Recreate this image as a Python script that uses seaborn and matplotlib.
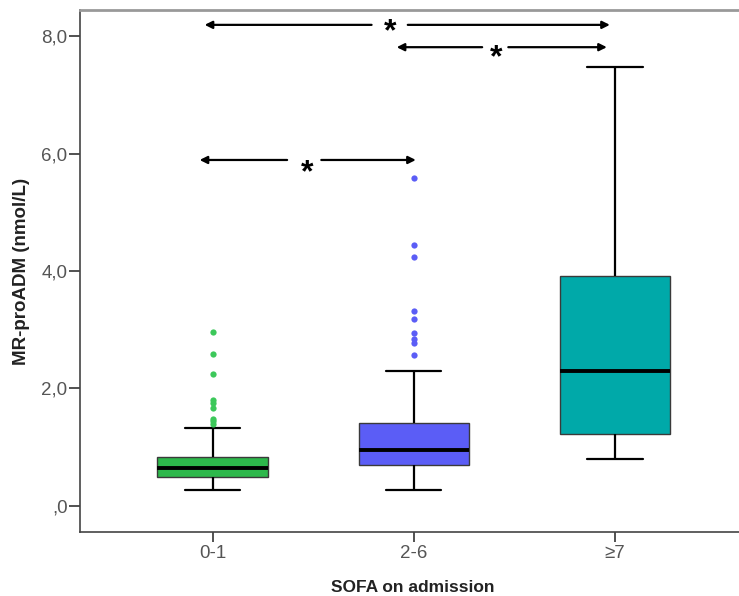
import matplotlib
matplotlib.use("Agg")
import matplotlib.pyplot as plt
import seaborn as sns
import numpy as np
import pandas as pd

# ---- data ----
categories = ["0-1", "2-6", "\u22657"]
colors = ["#2DB84B", "#5B5DF6", "#00A9A9"]
flier_colors = ["#3CC85A", "#5B5DF6", "#00A9A9"]
whislo = [0.27, 0.28, 0.80]
q1 = [0.49, 0.70, 1.23]
median = [0.64, 0.95, 2.29]
q3 = [0.84, 1.42, 3.91]
whishi = [1.32, 2.29, 7.48]
outliers = [
    [2.96, 2.58, 2.24, 1.80, 1.75, 1.66, 1.48, 1.44, 1.39],
    [5.58, 4.44, 4.23, 3.32, 3.18, 2.94, 2.85, 2.77, 2.57],
    [],
]
yticks = [0, 2, 4, 6, 8]
ytick_labels = [",0", "2,0", "4,0", "6,0", "8,0"]
# significance brackets: (x_start, x_end, y, gap_left, gap_right, star_x, star_y)
brackets = [
    (-0.04, 1.975, 8.19, 0.79, 0.97, 0.88, 8.07),
    (0.915, 1.96, 7.81, 1.34, 1.47, 1.41, 7.62),
    (-0.065, 1.01, 5.89, 0.37, 0.54, 0.47, 5.66),
]

# Build a sample per group that reproduces the read box statistics
rows = []
k = 20
for cat, lo, a, m, b, hi, outs in zip(categories, whislo, q1, median, q3, whishi, outliers):
    vals = [lo] + [a] * k + [m] * k + [b] * k + [hi] + list(outs)
    rows += [(cat, v) for v in vals]
df = pd.DataFrame(rows, columns=["SOFA", "value"])

sns.set_style("white")
plt.rcParams["font.family"] = ["Liberation Sans", "DejaVu Sans"]

fig = plt.figure(figsize=(7.39, 5.96), dpi=100)
ax_w = 1 - 80 / 739 + 0.01
ax = fig.add_axes([80 / 739, 64 / 596, ax_w, (532 - 10) / 596])

sns.boxplot(
    data=df, x="SOFA", y="value", hue="SOFA", order=categories, hue_order=categories,
    palette=colors, width=0.55, linecolor="black", linewidth=1.6, saturation=1,
    dodge=False, legend=False, ax=ax,
    medianprops=dict(color="black", linewidth=2.8),
    flierprops=dict(marker="o", markersize=4.5, markeredgewidth=0),
)

for i, cont in enumerate(ax.containers):
    for f in cont.fliers:
        f.set_markerfacecolor(flier_colors[i])
        f.set_markeredgecolor(flier_colors[i])
    for bx in cont.boxes:
        bx.set_edgecolor("#3a3a3a")
        bx.set_linewidth(1.0)

ax.set_xlim(-0.66, 2.654)
ax.set_ylim(-0.443, 8.443)
ax.set_yticks(yticks)
ax.set_yticklabels(ytick_labels)
ax.tick_params(axis="both", which="both", direction="out", width=1.2,
               colors="#333333", labelcolor="#555555", labelsize=13.5, left=True, bottom=True)
ax.tick_params(axis="y", length=8, pad=1)
ax.tick_params(axis="x", length=7, pad=2)
ax.set_xlabel("SOFA on admission", fontsize=12.5, fontweight="bold", color="#222222")
ax.set_ylabel("MR-proADM (nmol/L)", fontsize=13.5, fontweight="bold", color="#222222")
ax.xaxis.set_label_coords(0.5, (532 - 580) / 522)
ax.yaxis.set_label_coords((30 - 80) / (739 * ax_w), 0.5)

for side in ["left", "bottom"]:
    ax.spines[side].set_color("#444444")
    ax.spines[side].set_linewidth(1.2)
ax.spines["top"].set_color("#999999")
ax.spines["top"].set_linewidth(2.0)
ax.spines["right"].set_visible(False)

arrow_kw = dict(arrowstyle="-|>", color="black", lw=1.6, mutation_scale=11,
                shrinkA=0, shrinkB=0)
for xs, xe, y, gl, gr, sx, sy in brackets:
    ax.annotate("", xy=(xs, y), xytext=(gl, y), arrowprops=arrow_kw)
    ax.annotate("", xy=(xe, y), xytext=(gr, y), arrowprops=arrow_kw)
    ax.text(sx, sy, "*", fontsize=23, fontweight="bold", ha="center", va="center",
            color="black")

fig.savefig("out.png", dpi=100)
